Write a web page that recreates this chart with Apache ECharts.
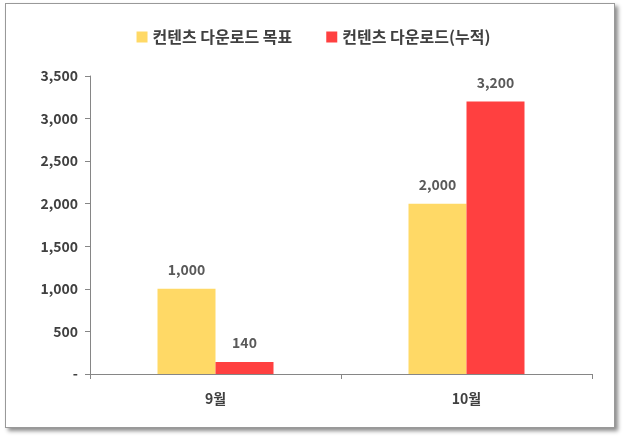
<!DOCTYPE html>
<html><head><meta charset="utf-8">
<script src="https://cdn.jsdelivr.net/npm/echarts@6/dist/echarts.min.js"></script>
<style>html,body{margin:0;padding:0;background:#fff}
#frame{position:absolute;left:5px;top:3px;width:608px;height:423px;border:1px solid #999;box-shadow:3px 3px 4px rgba(0,0,0,0.45);background:#fff}
#c{position:absolute;left:0;top:0;width:627px;height:441px}</style>
</head><body><div id="frame"></div><div id="c"></div>
<script>
const categories=['9월','10월'];
const targetName='컨텐츠 다운로드 목표';
const cumName='컨텐츠 다운로드(누적)';
const targetValues=[1000,2000];
const cumValues=[140,3200];
const ch=echarts.init(document.getElementById('c'));
const font='"Noto Sans CJK KR", sans-serif';
const lbl={show:true,position:'top',distance:12,color:'#595959',fontWeight:'bold',fontSize:14,fontFamily:font,formatter:p=>p.value.toLocaleString('en-US')};
ch.setOption({
 legend:{top:24,left:'center',itemWidth:11,itemHeight:11,itemGap:34,icon:'rect',textStyle:{fontSize:16,fontWeight:'bold',color:'#404040',fontFamily:font}},
 grid:{left:90,right:35,top:76,bottom:67,containLabel:false},
 xAxis:{type:'category',data:categories,axisLine:{lineStyle:{color:'#868686'}},axisTick:{show:true,lineStyle:{color:'#868686'}},axisLabel:{color:'#404040',fontWeight:'bold',fontSize:14,margin:18,fontFamily:font}},
 yAxis:{type:'value',min:0,max:3500,interval:500,splitLine:{show:false},axisLine:{show:true,lineStyle:{color:'#868686'}},axisTick:{show:true,lineStyle:{color:'#868686'}},
  axisLabel:{color:'#404040',fontWeight:'bold',fontSize:14,fontFamily:font,margin:12,formatter:v=>v===0?'-':v.toLocaleString('en-US')}},
 series:[
  {name:targetName,type:'bar',data:targetValues,barWidth:58,barGap:'0%',itemStyle:{color:'#FFD966'},label:lbl},
  {name:cumName,type:'bar',data:cumValues,barWidth:58,itemStyle:{color:'#FF4040'},label:lbl}
 ]
});
</script></body></html>
